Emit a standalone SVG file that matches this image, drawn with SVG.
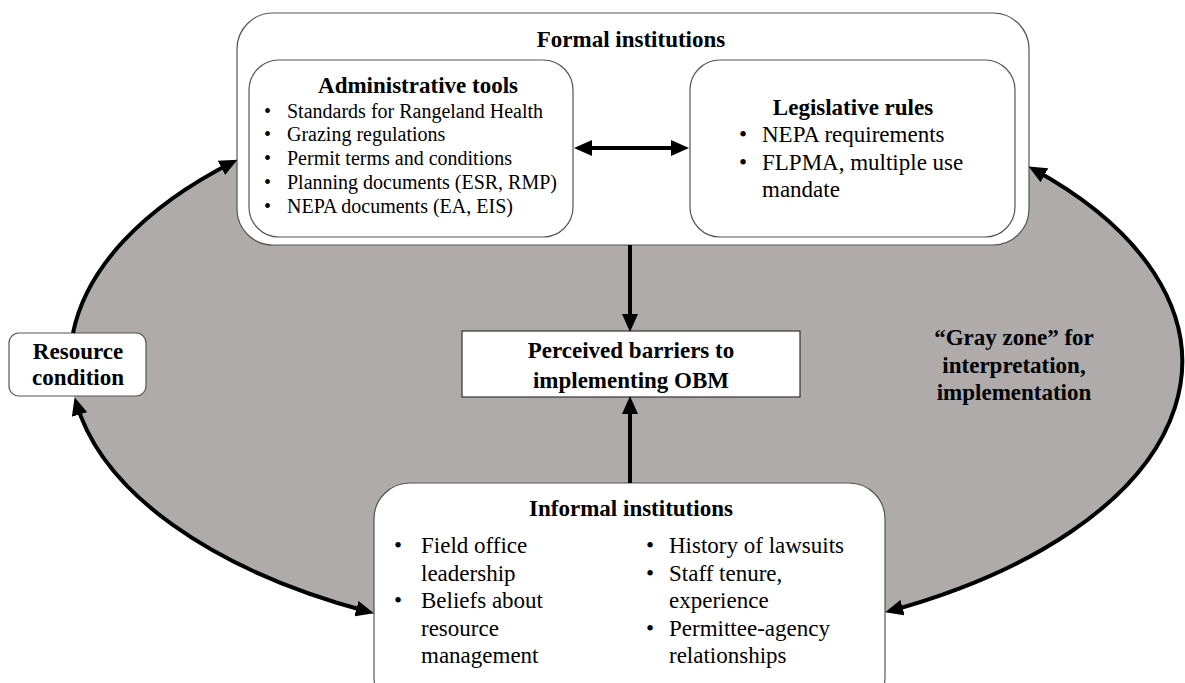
<svg xmlns="http://www.w3.org/2000/svg" width="1185" height="683" viewBox="0 0 1185 683">
<style>
.box{fill:#fff;stroke:#555;stroke-width:1.2}
.t{font-family:"Liberation Serif","Times New Roman",serif;fill:#000}
.b{font-weight:bold;font-size:23px}
.r{font-size:20px}
.ri{font-size:23px}
.c{stroke:#000;stroke-width:4;fill:none}
</style>
<defs>
<marker id="ah" markerUnits="userSpaceOnUse" markerWidth="20" markerHeight="16" refX="13" refY="8" orient="auto-start-reverse">
<path d="M0,0 L18,8 L0,16 z" fill="#000"/>
</marker>
</defs>
<rect width="1185" height="683" fill="#fff"/>
<ellipse id="grayzone" cx="626" cy="362" rx="556" ry="283" fill="#aeabaa"/>

<g id="formal">
<rect class="box" x="237" y="13" width="792" height="232" rx="36"/>
<text class="t b" x="631" y="47" text-anchor="middle">Formal institutions</text>
</g>
<g id="admin">
<rect class="box" x="249" y="60" width="324" height="177" rx="30"/>
<text class="t b" x="418" y="93" text-anchor="middle">Administrative tools</text>
<g class="t r">
<text x="264" y="118">•</text><text x="287" y="118">Standards for Rangeland Health</text>
<text x="264" y="141">•</text><text x="287" y="141">Grazing regulations</text>
<text x="264" y="165">•</text><text x="287" y="165">Permit terms and conditions</text>
<text x="264" y="189">•</text><text x="287" y="189">Planning documents (ESR, RMP)</text>
<text x="264" y="213">•</text><text x="287" y="213">NEPA documents (EA, EIS)</text>
</g>
</g>
<g id="legislative">
<rect class="box" x="690" y="60" width="325" height="177" rx="30"/>
<text class="t b" x="853" y="115" text-anchor="middle">Legislative rules</text>
<g class="t ri">
<text x="739" y="142">•</text><text x="762" y="142">NEPA requirements</text>
<text x="739" y="170">•</text><text x="762" y="170">FLPMA, multiple use</text>
<text x="762" y="197">mandate</text>
</g>
</g>
<g id="perceived">
<rect x="462" y="331" width="338" height="66" fill="#fff" stroke="#333" stroke-width="1.2"/>
<text class="t b" x="631" y="358" text-anchor="middle">Perceived barriers to</text>
<text class="t b" x="631" y="388" text-anchor="middle">implementing OBM</text>
</g>
<g id="informal">
<rect class="box" x="374" y="483" width="511" height="230" rx="36"/>
<text class="t b" x="631" y="516" text-anchor="middle">Informal institutions</text>
<g class="t ri">
<text x="394" y="553">•</text><text x="421" y="553">Field office</text>
<text x="421" y="581">leadership</text>
<text x="394" y="608">•</text><text x="421" y="608">Beliefs about</text>
<text x="421" y="636">resource</text>
<text x="421" y="663">management</text>
<text x="646" y="553">•</text><text x="669" y="553">History of lawsuits</text>
<text x="646" y="581">•</text><text x="669" y="581">Staff tenure,</text>
<text x="669" y="608">experience</text>
<text x="646" y="636">•</text><text x="669" y="636">Permittee-agency</text>
<text x="669" y="663">relationships</text>
</g>
</g>
<g id="resource">
<rect class="box" x="9" y="333" width="137" height="63" rx="10"/>
<text class="t b" x="78" y="359" text-anchor="middle">Resource</text>
<text class="t b" x="78" y="385" text-anchor="middle">condition</text>
</g>
<g id="grayzone-label">
<text class="t b" x="1014" y="345" text-anchor="middle">“Gray zone” for</text>
<text class="t b" x="1014" y="373" text-anchor="middle">interpretation,</text>
<text class="t b" x="1014" y="400" text-anchor="middle">implementation</text>
</g>

<g id="connectors">
<path class="c" d="M73,333 A556,283 0 0 1 233,162" marker-end="url(#ah)"/>
<path class="c" d="M76,402 A556,283 0 0 0 369,612" marker-start="url(#ah)" marker-end="url(#ah)"/>
<path class="c" d="M1033,169 A556,283 0 0 1 890,611" marker-start="url(#ah)" marker-end="url(#ah)"/>
<line class="c" x1="579" y1="148" x2="684" y2="148" marker-start="url(#ah)" marker-end="url(#ah)"/>
<line class="c" x1="630" y1="245" x2="630" y2="327" marker-end="url(#ah)"/>
<line class="c" x1="630" y1="483" x2="630" y2="401" marker-end="url(#ah)"/>
</g>
</svg>
